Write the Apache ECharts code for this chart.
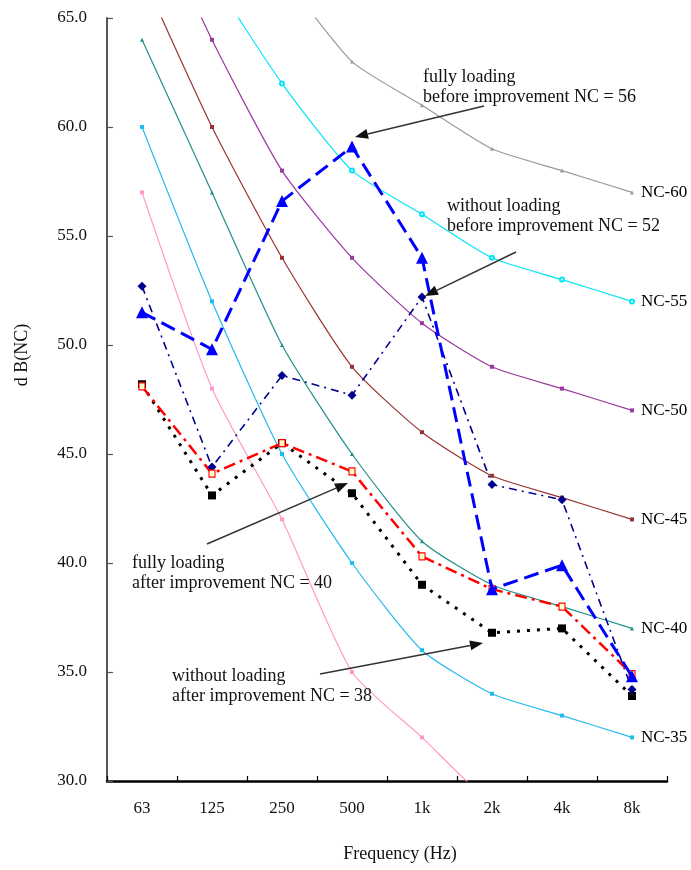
<!DOCTYPE html>
<html><head><meta charset="utf-8">
<script src="https://cdn.jsdelivr.net/npm/echarts@6/dist/echarts.min.js"></script>
<style>html,body{margin:0;padding:0;background:#fff}#c{width:691px;height:870px}</style>
</head><body><div id="c"></div>
<script>
// ---- data ----
const categories = ['63', '125', '250', '500', '1k', '2k', '4k', '8k'];
const nc60 = [77, 71, 67, 63, 61, 59, 58, 57];
const nc55 = [74, 67, 62, 58, 56, 54, 53, 52];
const nc50 = [71, 64, 58, 54, 51, 49, 48, 47];
const nc45 = [67, 60, 54, 49, 46, 44, 43, 42];
const nc40 = [64, 57, 50, 45, 41, 39, 38, 37];
const nc35 = [60, 52, 45, 40, 36, 34, 33, 32];
const nc30 = [57, 48, 42, 35, 32, 29, 28, 27];
const fullyBefore = [51.5, 49.8, 56.6, 59.1, 54.0, 38.8, 39.9, 34.8];
const withoutBefore = [52.7, 44.4, 48.6, 47.7, 52.2, 43.6, 42.9, 34.2];
const fullyAfter = [48.1, 44.1, 45.5, 44.2, 40.3, 38.8, 38.0, 34.9];
const withoutAfter = [48.2, 43.1, 45.5, 43.2, 39.0, 36.8, 37.0, 33.9];
const yMin = 30, yMax = 65, yStep = 5;
const xTitle = 'Frequency (Hz)';
const yTitle = 'd B(NC)';
const notes = [
  ['fully loading', 'before improvement NC = 56'],
  ['without loading', 'before improvement NC = 52'],
  ['fully loading', 'after improvement NC = 40'],
  ['without loading', 'after improvement NC = 38']
];

const SERIF = '"Liberation Serif", "Times New Roman", serif';

function ncSeries(name, data, color, symbol, showLabel) {
  return {
    name: name, type: 'line', data: data, smooth: 0.2,
    symbol: symbol, symbolSize: 4, showSymbol: true,
    lineStyle: { color: color, width: 1.2 },
    itemStyle: { color: color },
    z: 1,
    endLabel: showLabel ? {
      show: true, formatter: name, distance: 9,
      fontFamily: SERIF, fontSize: 17, color: '#000'
    } : { show: false }
  };
}

const chart = echarts.init(document.getElementById('c'), null, { renderer: 'canvas' });
const option = {
  animation: false,
  backgroundColor: '#fff',
  grid: { left: 107, right: 24, top: 18, bottom: 89, containLabel: false },
  xAxis: {
    type: 'category', data: categories, boundaryGap: true,
    axisLine: { lineStyle: { color: '#000', width: 2.5 } },
    axisTick: { show: true, inside: true, length: 5, interval: 0, lineStyle: { color: '#000', width: 1.2 } },
    axisLabel: { margin: 19, fontFamily: SERIF, fontSize: 17, color: '#111' },
    name: xTitle, nameLocation: 'middle', nameGap: 64,
    nameTextStyle: { fontFamily: SERIF, fontSize: 18, color: '#111', padding: [0, 0, 0, 26] }
  },
  yAxis: {
    type: 'value', min: yMin, max: yMax, interval: yStep,
    splitLine: { show: false },
    axisLine: { show: true, lineStyle: { color: '#555', width: 2 } },
    axisTick: { show: true, inside: true, length: 6, lineStyle: { color: '#555', width: 1.2 } },
    axisLabel: { margin: 20, fontFamily: SERIF, fontSize: 17, color: '#111', formatter: v => v.toFixed(1) }
  },
  series: [
    ncSeries('NC-60', nc60, '#9a9a9a', 'triangle', true),
    ncSeries('NC-55', nc55, '#00e6f6', 'emptyCircle', true),
    ncSeries('NC-50', nc50, '#9a3aa0', 'rect', true),
    ncSeries('NC-45', nc45, '#993333', 'rect', true),
    ncSeries('NC-40', nc40, '#1f9088', 'triangle', true),
    ncSeries('NC-35', nc35, '#22bbee', 'rect', true),
    ncSeries('NC-30', nc30, '#ff99cc', 'rect', false),
    {
      name: 'fully loading before', type: 'line', data: fullyBefore, z: 5,
      symbol: 'triangle', symbolSize: 12,
      lineStyle: { color: '#0000ff', width: 3, type: [15, 7] },
      itemStyle: { color: '#0000ff' }
    },
    {
      name: 'without loading before', type: 'line', data: withoutBefore, z: 4,
      symbol: 'diamond', symbolSize: 9,
      lineStyle: { color: '#000090', width: 1.6, type: [8, 5, 2, 5] },
      itemStyle: { color: '#000090' }
    },
    {
      name: 'fully loading after', type: 'line', data: fullyAfter, z: 4,
      symbol: 'rect', symbolSize: [6, 7],
      lineStyle: { color: '#ff0000', width: 2.5, type: [12, 5, 3, 5] },
      itemStyle: { color: '#ffffcc', borderColor: '#ff0000', borderWidth: 1.2 }
    },
    {
      name: 'without loading after', type: 'line', data: withoutAfter, z: 3,
      symbol: 'rect', symbolSize: 8,
      lineStyle: { color: '#000', width: 3, type: [3, 7] },
      itemStyle: { color: '#000' }
    }
  ]
};
chart.setOption(option);

// ---- annotations (layout only) ----
function arrow(x1, y1, x2, y2) {
  const a = Math.atan2(y2 - y1, x2 - x1);
  const L = 13, W = 5;
  const bx = x2 - L * Math.cos(a), by = y2 - L * Math.sin(a);
  const px = -Math.sin(a) * W, py = Math.cos(a) * W;
  return [
    { type: 'line', shape: { x1: x1, y1: y1, x2: bx, y2: by }, style: { stroke: '#333', lineWidth: 1.5 }, z: 10 },
    { type: 'polygon', shape: { points: [[x2, y2], [bx + px, by + py], [bx - px, by - py]] }, style: { fill: '#111' }, z: 10 }
  ];
}
function note(lines, x, y) {
  return {
    type: 'text', x: x, y: y, z: 11,
    style: { text: lines.join('\n'), font: '18px ' + SERIF, fill: '#111', lineHeight: 20, verticalAlign: 'middle', align: 'left' }
  };
}
const graphics = [
  { type: 'text', x: 22, y: 355, rotation: Math.PI / 2, style: { text: yTitle, font: '18px ' + SERIF, fill: '#111', align: 'center', verticalAlign: 'middle' } },
  note(notes[0], 423, 87),
  note(notes[1], 447, 216),
  note(notes[2], 132, 573),
  note(notes[3], 172, 686)
].concat(arrow(484, 106, 355, 137), arrow(516, 252, 425, 296), arrow(207, 544, 348, 483), arrow(320, 674, 483, 643));
chart.setOption({ graphic: graphics });
</script>
</body></html>
